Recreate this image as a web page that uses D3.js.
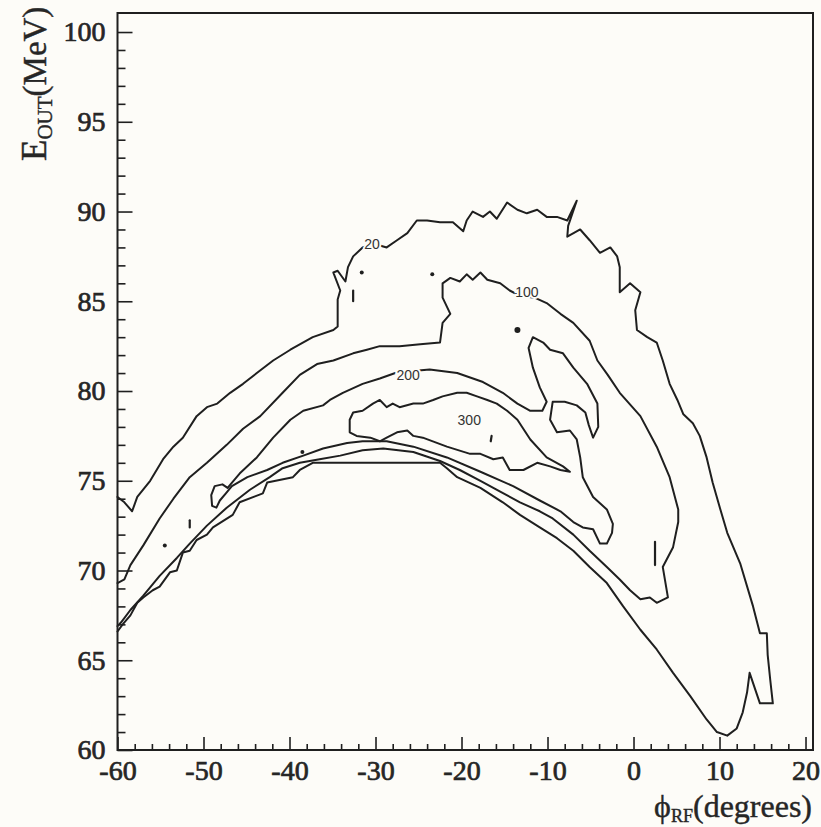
<!DOCTYPE html>
<html>
<head>
<meta charset="utf-8">
<script src="https://cdn.jsdelivr.net/npm/d3@7"></script>
<style>
  html, body { margin: 0; padding: 0; background: #fdfcf8; }
  svg { display: block; }
</style>
</head>
<body>
<svg id="chart" width="821" height="827"></svg>
<script>
// Contour levels of the particle density in the (phi_RF, E_out) plane
const levels = [20, 100, 200, 300];

// Contour traces: [phase in degrees, output energy in MeV]
const contour20 = [
  [-60.0,74.1],[-59.2,73.8],[-58.3,73.3],[-57.7,74.1],[-56.2,75.0],[-54.7,76.2],[-53.5,76.9],[-52.4,77.4],
  [-50.8,78.6],[-49.6,79.1],[-48.4,79.3],[-46.9,79.9],[-45.4,80.4],[-43.8,81.0],[-41.9,81.7],[-39.9,82.3],
  [-37.3,83.0],[-34.9,83.4],[-34.4,83.6],[-34.4,85.1],[-34.1,85.6],[-34.9,86.6],[-34.4,86.7],[-33.5,86.1],
  [-33.2,86.9],[-32.6,87.5],[-31.5,88.0],[-30.2,88.2],[-28.7,88.0],[-27.5,88.4],[-26.3,88.8],[-25.2,89.5],
  [-24.0,89.5],[-22.5,89.4],[-21.0,89.4],[-19.8,88.9],[-19.4,89.5],[-18.7,90.0],[-17.5,89.7],[-16.7,90.0],
  [-15.9,89.6],[-14.7,90.5],[-13.5,90.1],[-12.4,89.9],[-11.2,90.1],[-10.1,89.7],[-8.9,89.7],[-7.7,89.5],
  [-6.6,90.6],[-7.6,89.2],[-7.7,88.6],[-6.2,89.0],[-5.1,88.4],[-3.9,87.7],[-2.7,88.0],[-1.9,87.5],
  [-1.6,86.9],[-1.6,85.5],[-0.4,86.0],[0.8,85.5],[0.2,84.5],[0.4,83.4],[1.6,83.0],[2.7,82.7],
  [3.4,81.7],[4.2,80.4],[5.1,79.5],[5.8,78.7],[6.9,78.2],[7.7,77.5],[8.5,76.3],[9.2,74.9],
  [10.1,73.4],[10.9,72.1],[12.4,70.4],[13.9,68.0],[14.7,66.5],[15.5,66.5],[15.6,65.3],[15.9,63.9],
  [16.2,62.6],[14.7,62.6],[13.5,64.3],[13.2,63.2],[12.7,62.1],[12.0,61.2],[10.9,60.8],[9.7,61.0],
  [8.5,61.7],[6.6,63.0],[4.6,64.3],[2.7,65.6],[0.8,66.7],[-1.2,68.0],[-3.1,69.3],[-5.1,70.2],
  [-7.0,71.1],[-8.9,71.8],[-10.9,72.4],[-13.2,73.1],[-15.2,73.8],[-17.8,74.6],[-20.5,75.2],[-21.7,75.7],
  [-22.5,76.0],[-37.3,76.0],[-38.8,75.6],[-39.6,75.2],[-42.6,74.9],[-43.1,74.3],[-45.8,73.8],[-46.6,73.1],
  [-48.9,72.4],[-49.6,72.0],[-50.8,71.7],[-51.6,71.1],[-52.4,71.0],[-53.1,70.0],[-53.9,69.9],[-55.1,69.1],
  [-55.9,68.9],[-57.0,68.5],[-57.7,68.2],[-58.5,67.5],[-59.4,67.0],[-60.0,66.6]
];

const contour100 = [
  [-60.0,69.3],[-59.2,69.5],[-58.5,70.3],[-57.0,71.4],[-55.1,72.9],[-53.5,74.0],[-51.6,75.2],[-49.6,76.0],
  [-47.3,77.0],[-45.4,77.9],[-43.4,78.6],[-40.8,79.9],[-38.8,80.9],[-36.8,81.5],[-34.9,81.7],[-32.6,82.1],
  [-31.0,82.3],[-29.5,82.5],[-27.2,82.5],[-24.8,82.6],[-22.5,82.7],[-22.2,83.8],[-21.3,84.3],[-22.2,85.2],
  [-22.2,86.0],[-21.3,86.3],[-20.2,86.1],[-19.4,86.5],[-18.7,86.2],[-17.8,86.6],[-17.0,86.2],[-15.5,86.0],
  [-14.4,85.6],[-13.2,85.3],[-11.5,85.2],[-10.1,84.9],[-8.5,84.3],[-7.0,83.8],[-5.1,82.8],[-4.2,81.7],
  [-3.0,80.9],[-1.6,79.9],[0.8,78.6],[2.7,76.9],[4.2,75.2],[5.2,73.4],[5.2,72.7],[4.6,71.3],
  [3.4,70.2],[4.0,68.5],[2.7,68.2],[1.9,68.5],[0.8,68.4],[-0.4,68.9],[-1.6,69.5],[-3.1,70.2],
  [-5.1,71.1],[-7.0,72.0],[-9.4,72.9],[-10.9,73.3],[-13.2,73.8],[-15.5,74.4],[-17.8,75.0],[-20.2,75.6],
  [-22.5,76.1],[-25.6,76.6],[-29.1,76.8],[-31.5,76.7],[-34.1,76.4],[-36.5,76.2],[-38.8,76.0],[-40.8,75.7],
  [-42.3,75.2],[-44.6,74.5],[-47.3,73.5],[-49.6,72.5],[-51.6,71.5],[-53.1,70.7],[-55.1,69.7],[-57.0,68.6],
  [-58.5,67.8],[-59.6,67.1],[-60.0,66.9]
];

const contour200 = [
  [-47.2,74.6],[-45.8,75.4],[-43.8,76.3],[-41.9,77.4],[-39.9,78.4],[-38.4,78.9],[-36.1,79.2],[-35.3,79.5],
  [-33.8,79.9],[-31.5,80.4],[-29.5,80.7],[-27.7,81.0],[-26.0,81.1],[-23.7,81.2],[-20.5,81.0],[-17.5,80.5],
  [-15.2,79.9],[-13.5,79.3],[-12.0,78.9],[-10.6,78.9],[-10.1,79.4],[-10.9,80.2],[-11.7,81.3],[-12.2,82.4],
  [-11.7,83.0],[-10.5,82.7],[-9.7,82.3],[-8.2,82.1],[-7.0,81.3],[-5.4,80.4],[-4.2,79.3],[-4.1,78.0],
  [-4.7,77.4],[-5.2,78.1],[-5.6,78.8],[-6.6,79.2],[-8.0,79.4],[-9.4,79.4],[-9.7,78.4],[-8.9,77.7],
  [-7.4,77.8],[-6.6,77.3],[-6.2,76.3],[-5.9,75.2],[-4.7,74.1],[-3.1,73.4],[-2.4,72.6],[-2.5,72.1],
  [-3.1,71.5],[-3.9,71.5],[-4.7,72.3],[-5.9,72.4],[-7.0,72.7],[-8.5,73.3],[-10.9,73.9],[-14.0,74.7],
  [-17.8,75.5],[-21.7,76.3],[-25.6,76.9],[-28.7,77.2],[-31.5,77.2],[-33.3,77.1],[-36.1,76.8],[-38.4,76.4],
  [-40.8,76.0],[-42.6,75.6],[-44.9,75.2],[-46.7,74.7],[-47.4,74.3],[-48.1,73.9],[-48.5,73.5],[-49.0,73.6],
  [-49.1,74.2],[-48.7,74.7],[-47.8,74.8],[-47.2,74.6]
];

const contour300 = [
  [-33.0,78.4],[-32.6,78.8],[-31.5,78.9],[-30.3,79.3],[-29.5,79.5],[-28.7,79.1],[-28.0,79.3],[-27.2,79.1],
  [-25.6,79.3],[-24.5,79.3],[-23.3,79.5],[-22.2,79.7],[-20.5,79.9],[-19.4,79.9],[-18.2,79.7],[-17.0,79.5],
  [-15.9,79.3],[-14.7,78.9],[-13.5,78.4],[-12.0,77.3],[-10.1,76.3],[-8.2,75.8],[-7.4,75.5],[-8.5,75.6],
  [-9.7,75.8],[-11.2,76.0],[-12.8,75.6],[-14.4,75.6],[-15.2,76.3],[-16.3,76.2],[-17.8,76.5],[-19.0,76.5],
  [-21.7,76.9],[-24.5,77.4],[-25.6,77.5],[-26.3,77.8],[-27.5,77.7],[-28.7,77.4],[-29.5,77.2],[-30.6,77.4],
  [-32.2,77.5],[-33.0,77.7],[-33.0,78.4]
];

// Isolated single-bin islands
const islandDots = [[-31.6,86.6],[-23.4,86.5],[-13.5,83.4],[-54.5,71.4],[-38.5,76.6]];
const islandDashes = [
  [[-32.6,85.6],[-32.6,85.0]],
  [[-16.5,77.5],[-16.6,77.2]],
  [[-51.6,72.8],[-51.6,72.4]],
  [[2.5,71.6],[2.5,70.3]]
];

// Level label anchors [phase, energy]
const labelAnchors = [[-30.4,88.2],[-12.4,85.5],[-26.2,80.9],[-19.1,78.4]];

// Axis ticks
const xMajorTicks = [-60, -50, -40, -30, -20, -10, 0, 10, 20];
const xMinorTicks = d3.range(-58, 20, 2).filter(v => v % 10 !== 0);
const yMajorTicks = [60, 65, 70, 75, 80, 85, 90, 95, 100];
const yMinorTicks = d3.range(61, 100).filter(v => v % 5 !== 0);

const W = 821, H = 827;
const ink = "#1f1f1f";
const textInk = "#262626";
const svg = d3.select("#chart");

svg.append("rect").attr("width", W).attr("height", H).attr("fill", "#fdfcf8");

const x = d3.scaleLinear().domain([-60, 20.87]).range([117.5, 813]);
const y = d3.scaleLinear().domain([60, 101.06]).range([750, 13]);

// Contour lines
const line = d3.line().x(d => x(d[0])).y(d => y(d[1]));
const contours = [
  { level: levels[0], pts: contour20 },
  { level: levels[1], pts: contour100 },
  { level: levels[2], pts: contour200 },
  { level: levels[3], pts: contour300 }
];
const gc = svg.append("g").attr("class", "contours");
gc.selectAll("path.contour")
  .data(contours)
  .join("path")
  .attr("class", "contour")
  .attr("d", d => line(d.pts))
  .attr("fill", "none")
  .attr("stroke", ink)
  .attr("stroke-width", 2)
  .attr("stroke-linejoin", "round")
  .attr("stroke-linecap", "round");

gc.selectAll("circle.island")
  .data(islandDots)
  .join("circle")
  .attr("class", "island")
  .attr("cx", d => x(d[0]))
  .attr("cy", d => y(d[1]))
  .attr("r", (d, i) => i === 2 ? 3 : 2)
  .attr("fill", ink);

gc.selectAll("path.island-dash")
  .data(islandDashes)
  .join("path")
  .attr("class", "island-dash")
  .attr("d", d => line(d))
  .attr("stroke", ink)
  .attr("stroke-width", 2.2)
  .attr("stroke-linecap", "round");

// Level labels
gc.selectAll("text.level")
  .data(levels)
  .join("text")
  .attr("class", "level")
  .attr("x", (d, i) => x(labelAnchors[i][0]))
  .attr("y", (d, i) => y(labelAnchors[i][1]))
  .attr("dy", "0.35em")
  .attr("text-anchor", "middle")
  .attr("font-family", "Liberation Sans, Arial, sans-serif")
  .attr("font-size", 14)
  .attr("fill", "#333")
  .attr("stroke", "#fdfcf8")
  .attr("stroke-width", 4)
  .attr("paint-order", "stroke")
  .text(d => d);

// Axes
const tickFont = g => g.selectAll("text")
  .attr("font-family", "Liberation Serif, Times New Roman, serif")
  .attr("font-size", 28)
  .attr("fill", textInk)
  .attr("stroke", textInk)
  .attr("stroke-width", 0.7);

const yAxisG = svg.append("g").attr("transform", `translate(${x(-60)},0)`);
yAxisG.call(d3.axisLeft(y).tickValues(yMajorTicks).tickSize(-15).tickSizeOuter(0).tickPadding(12).tickFormat(d => String(d)));
yAxisG.append("g").call(d3.axisLeft(y).tickValues(yMinorTicks).tickSize(-8).tickSizeOuter(0).tickFormat(""));
yAxisG.selectAll(".domain").remove();
yAxisG.selectAll("line").attr("stroke", ink).attr("stroke-width", 1.6);
tickFont(yAxisG);

const xAxisG = svg.append("g").attr("transform", `translate(0,${y(60)})`);
xAxisG.call(d3.axisBottom(x).tickValues(xMajorTicks).tickSize(-13).tickSizeOuter(0).tickPadding(10).tickFormat(d => String(d)));
xAxisG.append("g").call(d3.axisBottom(x).tickValues(xMinorTicks).tickSize(-6).tickSizeOuter(0).tickFormat(""));
xAxisG.selectAll(".domain").remove();
xAxisG.selectAll("line").attr("stroke", ink).attr("stroke-width", 1.6);
tickFont(xAxisG);

// Frame
svg.append("rect")
  .attr("x", x(-60)).attr("y", y(101.06))
  .attr("width", x(20.87) - x(-60)).attr("height", y(60) - y(101.06))
  .attr("fill", "none").attr("stroke", ink).attr("stroke-width", 2);

// Axis titles
const yTitle = svg.append("text")
  .attr("transform", "translate(46,161) rotate(-90)")
  .attr("font-family", "Liberation Serif, Times New Roman, serif")
  .attr("font-size", 33)
  .attr("fill", textInk)
  .attr("stroke", textInk)
  .attr("stroke-width", 0.4);
yTitle.append("tspan").attr("font-size", 35).text("E");
yTitle.append("tspan").attr("font-size", 21).attr("dy", 6).text("OUT");
yTitle.append("tspan").attr("dy", -6).text("(MeV)");

const xTitle = svg.append("text")
  .attr("x", 812).attr("y", 817)
  .attr("text-anchor", "end")
  .attr("font-family", "Liberation Serif, DejaVu Serif, serif")
  .attr("font-size", 32)
  .attr("fill", textInk)
  .attr("stroke", textInk)
  .attr("stroke-width", 0.4);
xTitle.append("tspan").text("\u03D5");
xTitle.append("tspan").attr("font-size", 18).attr("dy", 5).text("RF");
xTitle.append("tspan").attr("dy", -5).text("(degrees)");
</script>
</body>
</html>
